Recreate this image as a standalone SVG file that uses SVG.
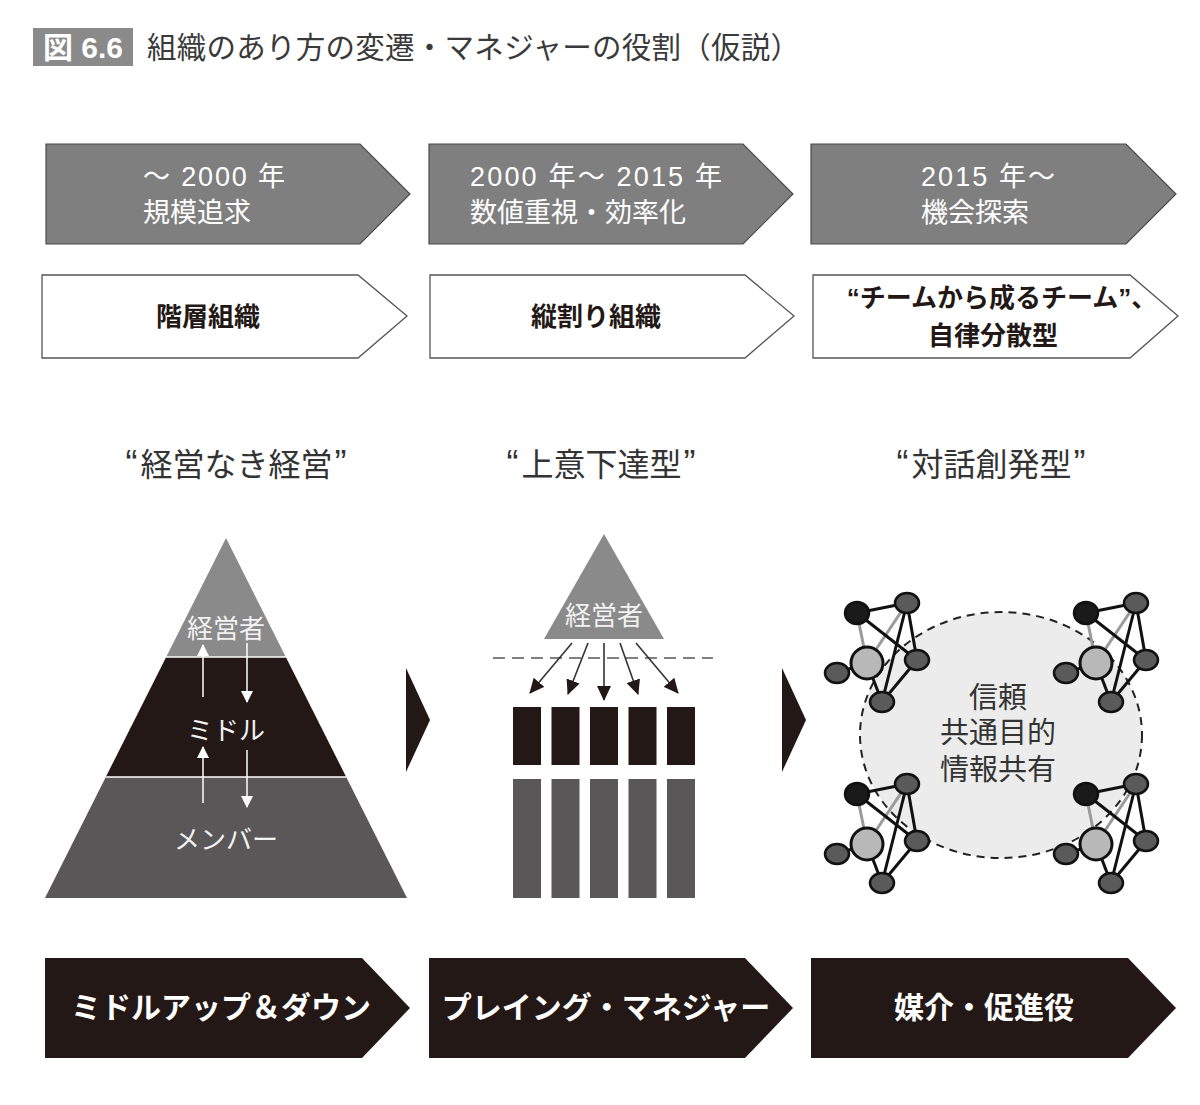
<svg xmlns="http://www.w3.org/2000/svg" xmlns:xlink="http://www.w3.org/1999/xlink" width="1200" height="1105" viewBox="0 0 1200 1105">
<style>
text{font-family:"Liberation Sans","Noto Sans CJK JP",sans-serif;}
.grey{fill:#7f7f7f;stroke:#4a4a4a;stroke-width:1.2;}
.white{fill:#fff;stroke:#555;stroke-width:1.3;}
.black{fill:#231815;}
.wt{fill:#fff;font-size:27px;}
.bt{fill:#231815;font-size:26px;font-weight:bold;text-anchor:middle;}
.hd{fill:#333;font-size:32px;text-anchor:middle;}
.q{font-size:36px;}
.bb{fill:#fff;font-size:30px;font-weight:bold;text-anchor:middle;}
.pt{fill:#f2f2f2;font-size:26px;text-anchor:middle;}
.wa{stroke:#fff;stroke-width:1.5;fill:none;}
.da{stroke:#333;stroke-width:1.6;fill:none;}
.eb{stroke:#111;stroke-width:3;fill:none;}
.eg{stroke:#9a9a9a;stroke-width:3;fill:none;}
.nd{stroke:#111;stroke-width:2.5;}
</style>
<defs>
<marker id="mw" markerUnits="userSpaceOnUse" markerWidth="12" markerHeight="12" refX="11" refY="6" orient="auto"><path d="M0,0 L12,6 L0,12 Z" fill="#fff"/></marker>
<marker id="md" markerUnits="userSpaceOnUse" markerWidth="15" markerHeight="14" refX="14" refY="7" orient="auto"><path d="M0,0 L15,7 L0,14 Z" fill="#231815"/></marker>
<g id="cluster">
<line class="eg" x1="857" y1="613" x2="867" y2="663"/>
<line class="eg" x1="907" y1="603" x2="867" y2="663"/>
<line class="eb" x1="857" y1="613" x2="907" y2="603"/>
<line class="eb" x1="857" y1="613" x2="917" y2="660"/>
<line class="eb" x1="907" y1="603" x2="917" y2="660"/>
<line class="eb" x1="907" y1="603" x2="882" y2="702"/>
<line class="eb" x1="917" y1="660" x2="882" y2="702"/>
<line class="eb" x1="867" y1="663" x2="882" y2="702"/>
<line class="eb" x1="867" y1="663" x2="837" y2="673"/>
<ellipse class="nd" cx="857" cy="613" rx="12" ry="11" fill="#1a1a1a"/>
<ellipse class="nd" cx="907" cy="603" rx="12" ry="10" fill="#5a5a5a"/>
<ellipse class="nd" cx="837" cy="673" rx="12" ry="10" fill="#5a5a5a"/>
<ellipse class="nd" cx="917" cy="660" rx="12" ry="10" fill="#5a5a5a"/>
<ellipse class="nd" cx="882" cy="702" rx="12" ry="10" fill="#5a5a5a"/>
<circle cx="867" cy="663" r="16" fill="#b8b8b8" stroke="#111" stroke-width="3"/>
</g>
</defs>
<rect width="1200" height="1105" fill="#fff"/>

<g id="title">
<rect x="33" y="28" width="100" height="38" fill="#8a8a8a"/>
<text x="83" y="58" fill="#fff" font-size="30" font-weight="bold" text-anchor="middle">図 6.6</text>
<text x="147" y="58" fill="#3a3a3a" font-size="29.5" textLength="653" lengthAdjust="spacing">組織のあり方の変遷・マネジャーの役割（仮説）</text>
</g>

<g id="era1">
<polygon class="grey" points="46,144 360,144 410,194 360,244 46,244"/>
<text class="wt" x="143" y="186" textLength="142" lengthAdjust="spacing">～ 2000 年</text>
<text class="wt" x="143" y="222">規模追求</text>
</g>
<g id="era2">
<polygon class="grey" points="429,144 743,144 793,194 743,244 429,244"/>
<text class="wt" x="470" y="186" textLength="252" lengthAdjust="spacing">2000 年～ 2015 年</text>
<text class="wt" x="470" y="222">数値重視・効率化</text>
</g>
<g id="era3">
<polygon class="grey" points="811,144 1126,144 1176,194 1126,244 811,244"/>
<text class="wt" x="921" y="186" textLength="134" lengthAdjust="spacing">2015 年～</text>
<text class="wt" x="921" y="222">機会探索</text>
</g>

<g id="org1">
<polygon class="white" points="42,275 358,275 407,316 358,358 42,358"/>
<text class="bt" x="208" y="326">階層組織</text>
</g>
<g id="org2">
<polygon class="white" points="430,275 745,275 794,316 745,358 430,358"/>
<text class="bt" x="596" y="326">縦割り組織</text>
</g>
<g id="org3">
<polygon class="white" points="813,275 1130,275 1178,316 1130,358 813,358"/>
<text class="bt" x="1002" y="307">“チームから成るチーム”、</text>
<text class="bt" x="993" y="345">自律分散型</text>
</g>

<g id="headings">
<text class="hd" x="236" y="476"><tspan class="q">“</tspan><tspan dx="3">経営なき経営</tspan><tspan class="q" dx="2">”</tspan></text>
<text class="hd" x="601" y="476"><tspan class="q">“</tspan><tspan dx="3">上意下達型</tspan><tspan class="q" dx="2">”</tspan></text>
<text class="hd" x="991" y="476"><tspan class="q">“</tspan><tspan dx="3">対話創発型</tspan><tspan class="q" dx="2">”</tspan></text>
</g>

<g id="pyramid">
<polygon points="226,538 285.8,657 166.2,657" fill="#8a8a8a"/>
<polygon points="166.2,657 285.8,657 346.2,777 105.8,777" fill="#231815"/>
<polygon points="105.8,777 346.2,777 407,898 45,898" fill="#595757"/>
<line x1="166" y1="657" x2="286" y2="657" stroke="#fff" stroke-width="1.5"/>
<line x1="106" y1="777" x2="346" y2="777" stroke="#fff" stroke-width="1.5"/>
<text class="pt" x="226" y="638">経営者</text>
<text class="pt" x="226" y="740">ミドル</text>
<text class="pt" x="226" y="849">メンバー</text>
</g>

<g id="sep1"><polygon class="black" points="406,668 430,720 406,772"/></g>
<g id="sep2"><polygon class="black" points="782,668 806,720 782,772"/></g>

<g id="topdown">
<polygon points="604,534 664,639 544,639" fill="#8a8a8a"/>
<text class="pt" x="604" y="625">経営者</text>
<line x1="493" y1="658" x2="713" y2="658" stroke="#555" stroke-width="1.5" stroke-dasharray="12,7"/>
<rect x="513" y="707" width="28" height="58" fill="#231815"/>
<rect x="551.5" y="707" width="28" height="58" fill="#231815"/>
<rect x="590" y="707" width="28" height="58" fill="#231815"/>
<rect x="628.5" y="707" width="28" height="58" fill="#231815"/>
<rect x="667" y="707" width="28" height="58" fill="#231815"/>
<rect x="513" y="779" width="28" height="119" fill="#595757"/>
<rect x="551.5" y="779" width="28" height="119" fill="#595757"/>
<rect x="590" y="779" width="28" height="119" fill="#595757"/>
<rect x="628.5" y="779" width="28" height="119" fill="#595757"/>
<rect x="667" y="779" width="28" height="119" fill="#595757"/>
</g>

<g id="dialogue">
<ellipse cx="1001" cy="735" rx="141" ry="123" fill="#ececec" stroke="#222" stroke-width="2" stroke-dasharray="8,6"/>
<text x="998" y="708" fill="#333" font-size="29" text-anchor="middle">信頼</text>
<text x="998" y="743" fill="#333" font-size="29" text-anchor="middle">共通目的</text>
<text x="998" y="780" fill="#333" font-size="29" text-anchor="middle">情報共有</text>
</g>
<g id="team1"><use xlink:href="#cluster"/></g>
<g id="team2"><use xlink:href="#cluster" transform="translate(229,0)"/></g>
<g id="team3"><use xlink:href="#cluster" transform="translate(0,181)"/></g>
<g id="team4"><use xlink:href="#cluster" transform="translate(229,181)"/></g>

<g id="connectors">
<line class="wa" x1="203" y1="697" x2="203" y2="645" marker-end="url(#mw)"/>
<line class="wa" x1="247" y1="643" x2="247" y2="702" marker-end="url(#mw)"/>
<line class="wa" x1="203" y1="803" x2="203" y2="747" marker-end="url(#mw)"/>
<line class="wa" x1="247" y1="750" x2="247" y2="807" marker-end="url(#mw)"/>
<line class="da" x1="572" y1="643" x2="530" y2="693" marker-end="url(#md)"/>
<line class="da" x1="588" y1="643" x2="568" y2="694" marker-end="url(#md)"/>
<line class="da" x1="604" y1="643" x2="604" y2="700" marker-end="url(#md)"/>
<line class="da" x1="620" y1="643" x2="638" y2="694" marker-end="url(#md)"/>
<line class="da" x1="636" y1="643" x2="678" y2="693" marker-end="url(#md)"/>
</g>

<g id="role1">
<polygon class="black" points="45,958 362,958 410,1008 362,1058 45,1058"/>
<text class="bb" x="221" y="1018">ミドルアップ＆ダウン</text>
</g>
<g id="role2">
<polygon class="black" points="429,958 745,958 793,1008 745,1058 429,1058"/>
<text class="bb" x="606" y="1018">プレイング・マネジャー</text>
</g>
<g id="role3">
<polygon class="black" points="811,958 1128,958 1176,1008 1128,1058 811,1058"/>
<text class="bb" x="984" y="1018">媒介・促進役</text>
</g>
</svg>
